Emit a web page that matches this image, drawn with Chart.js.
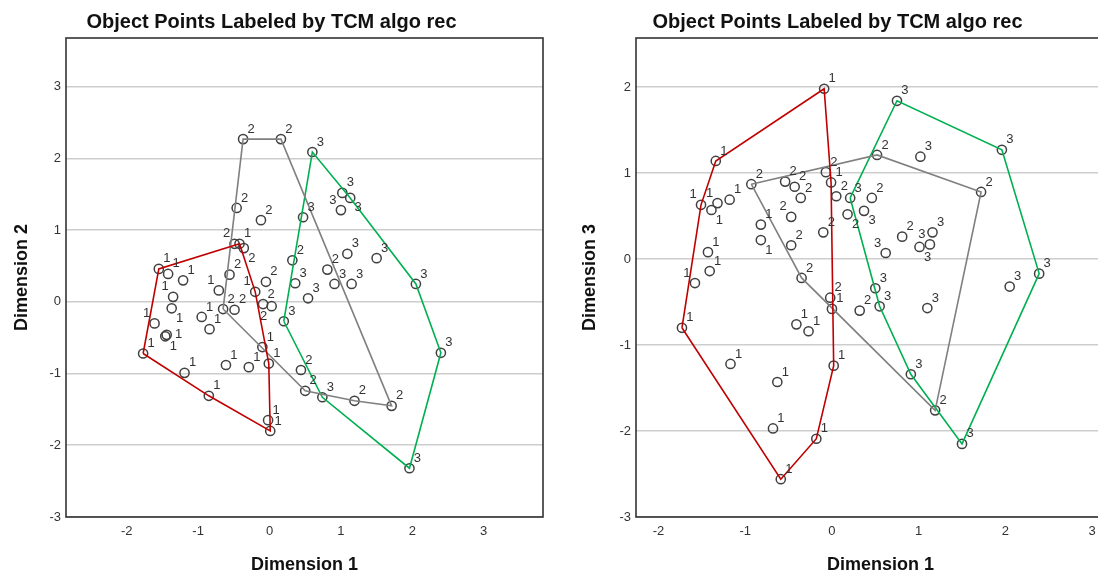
<!DOCTYPE html>
<html>
<head>
<meta charset="utf-8">
<script src="https://cdn.jsdelivr.net/npm/chart.js@4/dist/chart.umd.min.js"></script>
<style>
html,body{margin:0;padding:0;background:#fff;overflow:hidden;width:1098px;height:576px;position:relative;}
#leftChart{position:absolute;left:0;top:0;}
#rightChart{position:absolute;left:550px;top:0;}
</style>
</head>
<body>
<canvas id="leftChart" width="544" height="576"></canvas>
<canvas id="rightChart" width="575" height="576"></canvas>
<script>
// ---- Data ----
const chartTitle = 'Object Points Labeled by TCM algo rec';
const groupLabels = ['1', '2', '3'];
const axisTicks = [-3, -2, -1, 0, 1, 2, 3];

// Left panel: Dimension 1 (x) vs Dimension 2 (y)
const leftDim1_c1 = [-1.55,-1.42,-1.21,-1.35,-1.37,-1.61,-1.46,-1.44,-1.77,-1.19,-0.85,-0.71,-0.84,-0.42,-0.20,-0.10,-0.01,-0.61,-0.29,-0.02,0.01,-0.95];
const leftDim2_c1 = [0.46,0.39,0.30,0.07,-0.09,-0.30,-0.48,-0.46,-0.72,-0.99,-1.31,0.16,-0.38,0.81,0.14,-0.63,-0.86,-0.88,-0.91,-1.65,-1.80,-0.21];
const leftDim1_c2 = [-0.37,0.16,-0.46,-0.12,-0.49,-0.36,-0.56,-0.65,-0.49,-0.05,-0.09,0.03,0.32,0.81,0.44,0.50,1.19,1.71];
const leftDim2_c2 = [2.27,2.27,1.31,1.14,0.81,0.75,0.38,-0.10,-0.11,0.28,-0.03,-0.06,0.58,0.45,-0.95,-1.24,-1.38,-1.45];
const leftDim1_c3 = [0.60,1.02,1.13,1.00,0.47,1.09,1.50,2.05,0.91,1.15,0.36,0.54,0.20,0.74,2.40,1.96];
const leftDim2_c3 = [2.09,1.52,1.45,1.28,1.18,0.67,0.61,0.25,0.25,0.25,0.26,0.05,-0.27,-1.33,-0.71,-2.32];

// Right panel: Dimension 1 (x) vs Dimension 3 (y)
const rightDim1_c1 = [-0.09,-1.34,-0.01,-1.18,-1.32,-1.39,-1.51,-0.82,-0.82,-1.43,-1.41,-1.58,-1.73,0.00,-0.41,-0.27,0.02,-1.17,-0.63,-0.68,-0.18,-0.59];
const rightDim3_c1 = [1.98,1.14,0.89,0.69,0.65,0.57,0.63,0.40,0.22,0.08,-0.14,-0.28,-0.80,-0.58,-0.76,-0.84,-1.24,-1.22,-1.43,-1.97,-2.09,-2.56];
const rightDim1_c2 = [0.52,-0.93,-0.54,-0.43,-0.07,-0.36,0.05,0.46,0.18,-0.10,-0.47,-0.47,1.72,0.81,-0.35,-0.02,0.32,1.19];
const rightDim3_c2 = [1.21,0.87,0.90,0.84,1.01,0.71,0.73,0.71,0.52,0.31,0.16,0.49,0.78,0.26,-0.22,-0.45,-0.60,-1.76];
const rightDim1_c3 = [0.75,1.96,1.02,0.21,0.37,1.16,1.01,1.13,0.62,0.50,0.55,1.10,2.39,2.05,0.91,1.50];
const rightDim3_c3 = [1.84,1.27,1.19,0.71,0.56,0.31,0.14,0.17,0.07,-0.34,-0.55,-0.57,-0.17,-0.32,-1.34,-2.15];

// ---- Styling ----
const FONT = '"Liberation Sans", Arial, Helvetica, sans-serif';
const hullColors = ['#c00000', '#808080', '#00b050'];
const pointBorder = '#404040';

function zip(xs, ys) { return xs.map((x, i) => ({ x: x, y: ys[i] })); }

function convexHull(pts) {
  const p = pts.slice().sort((a, b) => a.x - b.x || a.y - b.y);
  const cross = (o, a, b) => (a.x - o.x) * (b.y - o.y) - (a.y - o.y) * (b.x - o.x);
  const lower = [];
  for (const q of p) {
    while (lower.length >= 2 && cross(lower[lower.length - 2], lower[lower.length - 1], q) <= 0) lower.pop();
    lower.push(q);
  }
  const upper = [];
  for (let i = p.length - 1; i >= 0; i--) {
    const q = p[i];
    while (upper.length >= 2 && cross(upper[upper.length - 2], upper[upper.length - 1], q) <= 0) upper.pop();
    upper.push(q);
  }
  upper.pop(); lower.pop();
  const h = lower.concat(upper);
  h.push(h[0]);
  return h;
}

const framePlugin = {
  id: 'frame',
  afterDraw(chart) {
    const { left, top, right, bottom } = chart.chartArea;
    const ctx = chart.ctx;
    ctx.save();
    ctx.strokeStyle = '#333';
    ctx.lineWidth = 1.6;
    ctx.strokeRect(left, top, right - left, bottom - top);
    ctx.restore();
  }
};

const labelPlugin = {
  id: 'ptLabels',
  afterDatasetsDraw(chart) {
    const ctx = chart.ctx, xs = chart.scales.x, ys = chart.scales.y;
    ctx.save();
    ctx.font = '13px ' + FONT;
    ctx.fillStyle = '#333';
    ctx.textAlign = 'center';
    ctx.textBaseline = 'middle';
    const pts = [];
    chart.data.datasets.forEach(ds => {
      if (!ds.isPoints) return;
      ds.data.forEach(d => pts.push({ px: xs.getPixelForValue(d.x), py: ys.getPixelForValue(d.y), lab: ds.groupLabel }));
    });
    const placed = [];
    const cands = [[8, -10], [-8, -10], [8, 10], [-8, 10], [12, 0], [-12, 0], [0, -13], [0, 13]];
    pts.forEach((p, i) => {
      const w = ctx.measureText(p.lab).width, h = 10;
      let best = null, bestScore = 1e9;
      cands.forEach((c, k) => {
        const cx = p.px + c[0], cy = p.py + c[1];
        const box = [cx - w / 2 - 1, cy - h / 2, cx + w / 2 + 1, cy + h / 2];
        let score = k * 0.01;
        placed.forEach(b => {
          if (box[0] < b[2] && box[2] > b[0] && box[1] < b[3] && box[3] > b[1]) score += 1;
        });
        pts.forEach((q, j) => {
          if (j === i) return;
          const dx = Math.max(box[0] - q.px, 0, q.px - box[2]);
          const dy = Math.max(box[1] - q.py, 0, q.py - box[3]);
          if (dx * dx + dy * dy < 25) score += 1;
        });
        if (score < bestScore) { bestScore = score; best = { box: box, cx: cx, cy: cy }; }
      });
      placed.push(best.box);
      ctx.fillText(p.lab, best.cx, best.cy);
    });
    ctx.restore();
  }
};

function makeChart(id, groups, cfg) {
  const datasets = [];
  groups.forEach((g, gi) => {
    const pts = zip(g[0], g[1]);
    datasets.push({
      data: convexHull(pts),
      showLine: true,
      borderColor: hullColors[gi],
      borderWidth: 1.6,
      pointRadius: 0,
      fill: false,
      tension: 0
    });
  });
  groups.forEach((g, gi) => {
    datasets.push({
      data: zip(g[0], g[1]),
      isPoints: true,
      groupLabel: groupLabels[gi],
      showLine: false,
      pointStyle: 'circle',
      pointRadius: 4.6,
      pointBorderWidth: 1.5,
      pointBorderColor: pointBorder,
      pointBackgroundColor: 'rgba(0,0,0,0)'
    });
  });
  return new Chart(document.getElementById(id), {
    type: 'scatter',
    data: { datasets: datasets },
    plugins: [framePlugin, labelPlugin],
    options: {
      responsive: false,
      animation: false,
      events: [],
      layout: { autoPadding: false, padding: { left: 0, right: cfg.padRight, top: 0, bottom: 0 } },
      plugins: {
        legend: { display: false },
        tooltip: { enabled: false },
        title: {
          display: true,
          text: chartTitle,
          color: '#111',
          font: { family: FONT, size: 20, weight: 'bold' },
          padding: { top: 10, bottom: 4 }
        }
      },
      scales: {
        x: {
          type: 'linear',
          min: cfg.xMin, max: cfg.xMax,
          afterBuildTicks: s => { s.ticks = axisTicks.filter(v => v >= s.min && v <= s.max).map(v => ({ value: v })); },
          ticks: { stepSize: 1, includeBounds: false, padding: 7, color: '#333', font: { family: FONT, size: 13 } },
          grid: { display: false, drawTicks: false },
          border: { display: false },
          title: { display: true, text: 'Dimension 1', color: '#111', font: { family: FONT, size: 18, weight: 'bold' }, padding: { top: 0, bottom: 0 } },
          afterFit: s => { s.height = 59; }
        },
        y: {
          type: 'linear',
          min: cfg.yMin, max: cfg.yMax,
          afterBuildTicks: s => { s.ticks = axisTicks.filter(v => v >= s.min && v <= s.max).map(v => ({ value: v })); },
          ticks: { stepSize: 1, includeBounds: false, padding: 5, color: '#333', font: { family: FONT, size: 13 } },
          grid: { display: true, drawTicks: false, color: '#cdcdcd', lineWidth: 1.6 },
          border: { display: false },
          title: { display: true, text: cfg.yTitle, color: '#111', font: { family: FONT, size: 18, weight: 'bold' }, padding: { top: cfg.yTitlePad, bottom: 0 } },
          afterFit: s => { s.width = cfg.yWidth; }
        }
      }
    }
  });
}

makeChart('leftChart',
  [[leftDim1_c1, leftDim2_c1], [leftDim1_c2, leftDim2_c2], [leftDim1_c3, leftDim2_c3]],
  { xMin: -2.85, xMax: 3.83, yMin: -3, yMax: 3.68, yTitle: 'Dimension 2', yWidth: 66, yTitlePad: 11, padRight: 1 });

makeChart('rightChart',
  [[rightDim1_c1, rightDim3_c1], [rightDim1_c2, rightDim3_c2], [rightDim1_c3, rightDim3_c3]],
  { xMin: -2.26, xMax: 3.38, yMin: -3, yMax: 2.57, yTitle: 'Dimension 3', yWidth: 86, yTitlePad: 29, padRight: 0 });
</script>
</body>
</html>
